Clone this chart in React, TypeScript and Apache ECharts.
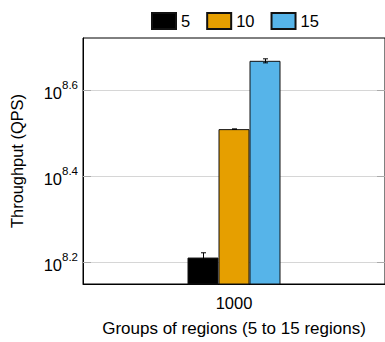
import React, { useEffect, useRef } from "react";
import * as echarts from "echarts";

const categories = ["1000"];
const seriesNames = ["5", "10", "15"];
const seriesColors = ["#000000", "#E69F00", "#56B4E9"];
// Throughput (QPS) per series for category "1000"
const throughput = [162.7e6, 323.2e6, 465.6e6];
const errorHalf = [4.2e6, 0.3e6, 5.0e6];
// log10 exponents shown on the y axis
const yTickExponents = [8.2, 8.4, 8.6];
const yMinExp = 8.15;
const yMaxExp = 8.721;

const FONT = "Liberation Sans, Arial, Helvetica, sans-serif";
const BAR_W = 31;

export default function App() {
  const ref = useRef<HTMLDivElement>(null);
  useEffect(() => {
    if (!ref.current) return;
    const chart = echarts.init(ref.current, null, { renderer: "svg" });

    const barSeries = seriesNames.map((name, i) => ({
      name,
      type: "bar",
      barWidth: BAR_W,
      barGap: "0%",
      clip: true,
      itemStyle: { color: seriesColors[i], borderColor: "#111", borderWidth: 1 },
      data: [Math.log10(throughput[i])],
      z: 2,
    }));

    const errData = seriesNames.map((_, i) => [
      0,
      i,
      Math.log10(throughput[i] - errorHalf[i]),
      Math.log10(throughput[i] + errorHalf[i]),
    ]);

    const option: any = {
      animation: false,
      textStyle: { fontFamily: FONT },
      legend: {
        data: seriesNames,
        left: 151,
        top: 12,
        padding: 0,
        itemWidth: 24,
        itemHeight: 16,
        itemGap: 16,
        icon: "rect",
        textStyle: { fontSize: 16.5, color: "#000", fontFamily: FONT },
      },
      grid: { left: 83, right: -1, top: 38, bottom: 55, show: true, borderColor: "#000", borderWidth: 1, containLabel: false },
      xAxis: {
        type: "category",
        data: categories,
        name: "Groups of regions (5 to 15 regions)",
        nameLocation: "middle",
        nameGap: 36,
        nameTextStyle: { fontSize: 17, color: "#000", fontFamily: FONT },
        axisLine: { show: true, lineStyle: { color: "#000", width: 1 } },
        axisTick: { show: false },
        axisLabel: { fontSize: 16.5, color: "#000", margin: 10, fontFamily: FONT },
      },
      yAxis: [
        {
          type: "value",
          min: yMinExp,
          max: yMaxExp,
          name: "Throughput (QPS)",
          nameLocation: "middle",
          nameGap: 58,
          nameTextStyle: { fontSize: 16.4, color: "#000", fontFamily: FONT },
          axisLine: { show: true, lineStyle: { color: "#000", width: 1 } },
          axisTick: { show: true, inside: true, length: 8, customValues: yTickExponents, lineStyle: { color: "#aaa" } },
          splitLine: { show: true, lineStyle: { color: "#d6d6d6", width: 1 } },
          axisLabel: {
            customValues: yTickExponents,
            margin: 5,
            formatter: (v: number) => `{b|10}{s|${v.toFixed(1)}}`,
            rich: {
              b: { fontSize: 16.5, color: "#000", fontFamily: FONT, verticalAlign: "bottom", lineHeight: 22 },
              s: { fontSize: 11.5, color: "#000", fontFamily: FONT, verticalAlign: "top", lineHeight: 12 },
            },
          },
        },
        {
          type: "value",
          position: "right",
          min: yMinExp,
          max: yMaxExp,
          axisLine: { show: false },
          axisTick: { show: true, inside: true, length: 8, customValues: yTickExponents, lineStyle: { color: "#aaa" } },
          splitLine: { show: false },
          axisLabel: { show: false },
        },
      ],
      series: [
        ...barSeries,
        {
          type: "custom",
          name: "err",
          clip: true,
          z: 5,
          encode: { x: 0, y: [2, 3] },
          data: errData,
          renderItem: (params: any, api: any) => {
            const cat = api.value(0);
            const idx = api.value(1);
            const lo = api.coord([cat, api.value(2)]);
            const hi = api.coord([cat, api.value(3)]);
            const x = Math.round(lo[0] + (idx - 1) * BAR_W) + 0.5;
            const cap = 2.5;
            const style = { stroke: "#000", lineWidth: 1 };
            return {
              type: "group",
              children: [
                { type: "line", shape: { x1: x, y1: lo[1], x2: x, y2: hi[1] }, style },
                { type: "line", shape: { x1: x - cap, y1: hi[1], x2: x + cap, y2: hi[1] }, style },
                { type: "line", shape: { x1: x - cap, y1: lo[1], x2: x + cap, y2: lo[1] }, style },
              ],
            };
          },
        },
      ],
    };
    chart.setOption(option);
    return () => chart.dispose();
  }, []);
  return (
    <div
      ref={ref}
      style={{ position: "absolute", left: 0, top: 0, width: 385, height: 342, background: "#fff" }}
    />
  );
}
